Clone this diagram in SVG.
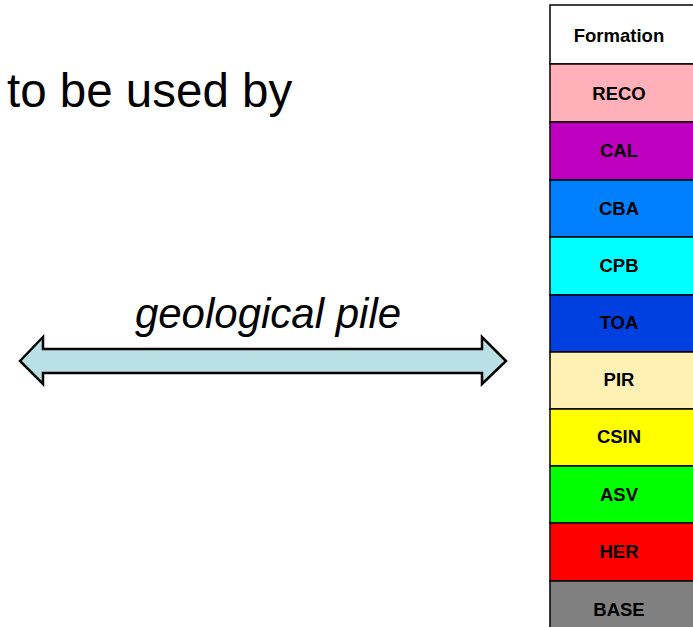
<svg xmlns="http://www.w3.org/2000/svg" width="693" height="627" viewBox="0 0 693 627">
<style>
.t{font-family:"Liberation Sans",Arial,sans-serif;fill:#000}
.lb{font-family:"Liberation Sans",Arial,sans-serif;font-size:18.5px;font-weight:bold;fill:#000;text-anchor:middle}
.r{stroke:#000;stroke-width:1.5}
</style>
<rect width="693" height="627" fill="#fff"/>
<text class="t" x="7" y="107" font-size="47.5">to be used by</text>
<text class="t" x="268" y="328" font-size="42" text-anchor="middle" font-style="italic">geological pile</text>
<g id="connectors">
<path d="M20,361 L43,337 L43,349 L482,349 L482,337 L506,361 L482,384 L482,373 L43,373 L43,384 Z" fill="#B9E0E4" stroke="#000" stroke-width="2.5" stroke-linejoin="miter"/>
</g>
<g id="formation"><rect class="r" x="550" y="5" width="145" height="59" fill="#fff"/><text class="lb" x="619" y="42">Formation</text></g>
<g id="reco"><rect class="r" x="550" y="64" width="145" height="58" fill="#FFB0B9"/><text class="lb" x="619" y="100">RECO</text></g>
<g id="cal"><rect class="r" x="550" y="122" width="145" height="58" fill="#C000C0"/><text class="lb" x="619" y="157">CAL</text></g>
<g id="cba"><rect class="r" x="550" y="180" width="145" height="57" fill="#0080FF"/><text class="lb" x="619" y="215">CBA</text></g>
<g id="cpb"><rect class="r" x="550" y="237" width="145" height="58" fill="#00FFFF"/><text class="lb" x="619" y="272">CPB</text></g>
<g id="toa"><rect class="r" x="550" y="295" width="145" height="57" fill="#0040E0"/><text class="lb" x="619" y="329">TOA</text></g>
<g id="pir"><rect class="r" x="550" y="352" width="145" height="57" fill="#FFF0B4"/><text class="lb" x="619" y="386">PIR</text></g>
<g id="csin"><rect class="r" x="550" y="409" width="145" height="57" fill="#FFFF00"/><text class="lb" x="619" y="443">CSIN</text></g>
<g id="asv"><rect class="r" x="550" y="466" width="145" height="57" fill="#00FF00"/><text class="lb" x="619" y="501">ASV</text></g>
<g id="her"><rect class="r" x="550" y="523" width="145" height="58" fill="#FF0000"/><text class="lb" x="619" y="558">HER</text></g>
<g id="base"><rect class="r" x="550" y="581" width="145" height="50" fill="#808080"/><text class="lb" x="619" y="616">BASE</text></g>
</svg>
